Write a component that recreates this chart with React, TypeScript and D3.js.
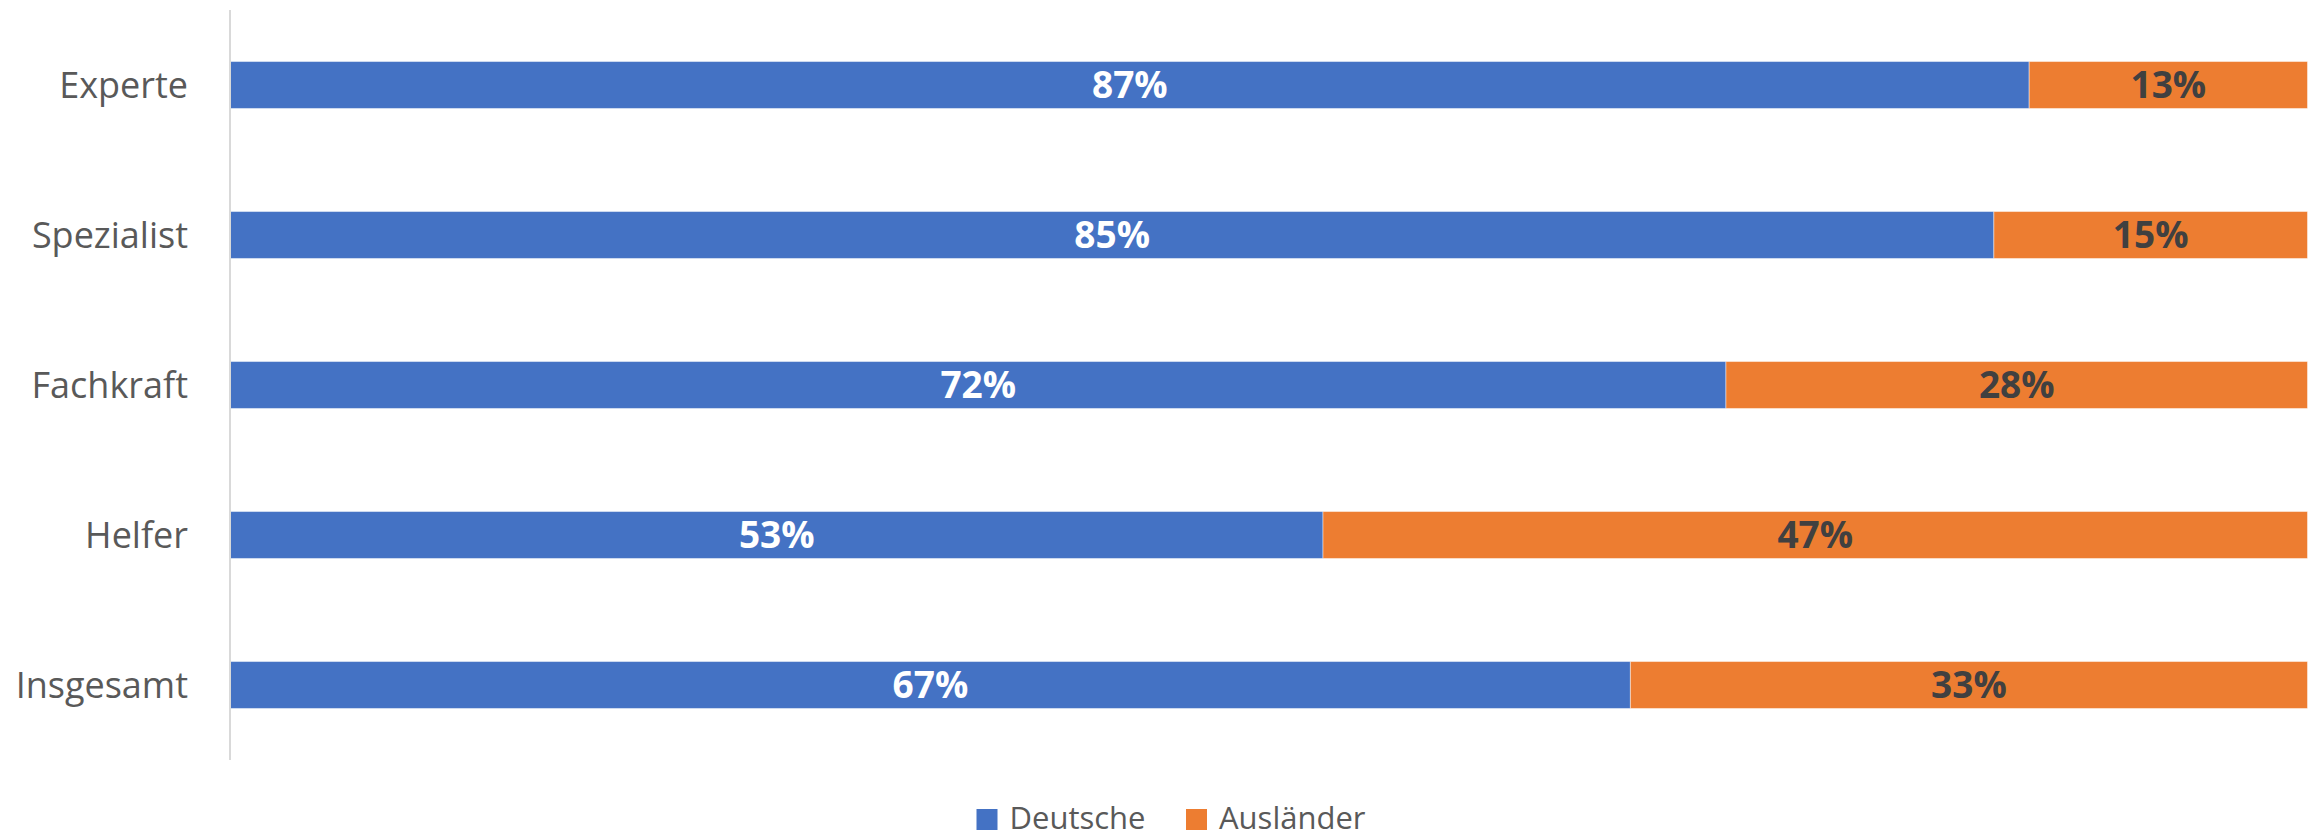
import React from "react";
import * as d3 from "d3";

const categories = ["Experte", "Spezialist", "Fachkraft", "Helfer", "Insgesamt"];
const deutsche = [0.866, 0.849, 0.72, 0.526, 0.674];
const auslaender = [0.134, 0.151, 0.28, 0.474, 0.326];
const seriesNames = ["Deutsche", "Ausländer"];
const seriesColors = ["#4472C4", "#ED7D31"];
const labelColors = ["#FFFFFF", "#404040"];

const W = 2323;
const H = 832;

export default function App() {
  const y = d3.scaleBand<string>().domain(categories).range([10, 760]).paddingInner(0.687).paddingOuter(0.3435);
  const x = d3.scaleLinear().domain([0, 1]).range([230.5, 2307.5]);
  const fmt = (v: number) => `${Math.round(v * 100)}%`;

  const rows = categories.map((c, i) => ({ c, vals: [deutsche[i], auslaender[i]] }));
  const font = "'Open Sans', 'DejaVu Sans', sans-serif";

  const legendItems = [
    { name: seriesNames[0], color: seriesColors[0], x: 976.5 },
    { name: seriesNames[1], color: seriesColors[1], x: 1186 },
  ];

  return (
    <svg width={W} height={H} style={{ position: "absolute", left: 0, top: 0, background: "#fff" }} fontFamily={font}>
      <rect x={0} y={0} width={W} height={H} fill="#fff" />
      {rows.map((r) => {
        let acc = 0;
        const yy = y(r.c)!;
        const bh = y.bandwidth();
        return (
          <g key={r.c}>
            {r.vals.map((v, k) => {
              const x0 = x(acc);
              const x1 = x(acc + v);
              acc += v;
              return (
                <g key={k}>
                  <rect x={x0} y={yy} width={x1 - x0} height={bh} fill={seriesColors[k]} stroke="#fff" strokeOpacity={0.45} strokeWidth={1} />
                  <text
                    x={(x0 + x1) / 2}
                    y={yy + bh / 2}
                    dy="0.36em"
                    textAnchor="middle"
                    fontWeight="bold"
                    fontSize={37}
                    fill={labelColors[k]}
                  >
                    {fmt(v)}
                  </text>
                </g>
              );
            })}
            <text x={188} y={yy + bh / 2} dy="0.36em" textAnchor="end" fontSize={36} fill="#595959">
              {r.c}
            </text>
          </g>
        );
      })}
      <line x1={230} x2={230} y1={10} y2={760} stroke="#d9d9d9" strokeWidth={2} />
      {legendItems.map((l) => (
        <g key={l.name}>
          <rect x={l.x} y={809} width={21} height={21} fill={l.color} />
          <text x={l.x + 33} y={829} fontSize={31} fill="#595959">
            {l.name}
          </text>
        </g>
      ))}
    </svg>
  );
}
